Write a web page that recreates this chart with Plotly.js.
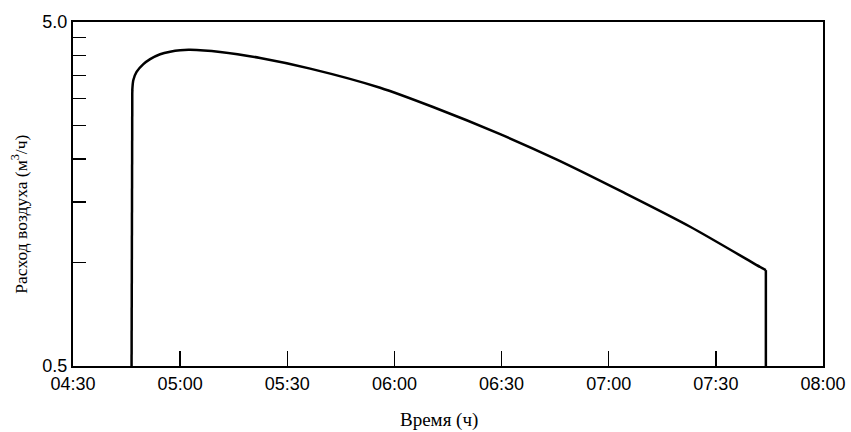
<!DOCTYPE html>
<html>
<head>
<meta charset="utf-8">
<script src="https://cdn.plot.ly/plotly-3.0.1.min.js"></script>
<style>html,body{margin:0;padding:0;background:#fff;}#chart{width:851px;height:432px;}</style>
</head>
<body>
<div id="chart"></div>
<script>
// Time (h:m:s) of each point of the air-flow curve
var times = ["04:46:24","04:46:30","04:46:36","04:46:54","04:47:48","04:49:42","04:51:36","04:54:24","04:57:12","05:00:00","05:02:48","05:11:12","05:22:24","05:36:24","05:56:00","06:10:48","06:29:36","06:45:30","07:04:00","07:22:48","07:42:24","07:44:00","07:44:00"];
// Air flow (m3/h)
var flow = [0.5, 2.9, 3.17, 3.39, 3.58, 3.77, 3.90, 4.03, 4.10, 4.14, 4.15, 4.09, 3.93, 3.66, 3.22, 2.83, 2.36, 1.99, 1.60, 1.27, 0.97, 0.95, 0.5];
// Tick values and labels
var yTickVals = [0.5, 5];
var yTickText = ["0.5", "5.0"];
var yMinorTickVals = [1, 1.5, 2, 2.5, 3, 3.5, 4, 4.5];
var xStart = "04:30", xEnd = "08:00";
var xTitle = "Время (ч)";
var yTitle = "Расход воздуха (м<sup>3</sup>/ч)";

var day = "2000-01-01 ";
var X = times.map(function(t){ return day + t; });
var n = X.length;
function seg(a, b, shape) {
  return {
    x: X.slice(a, b), y: flow.slice(a, b),
    mode: "lines",
    line: {color: "#000", width: 2.5, shape: shape, smoothing: 0.8},
    hoverinfo: "skip", showlegend: false
  };
}
var traces = [
  seg(0, 3, "linear"),        // rising edge
  seg(2, n - 1, "spline"),    // curve
  seg(n - 2, n, "linear")     // falling edge
];

var tickFont = {family: "Liberation Sans, Arial, sans-serif", size: 18, color: "#000"};
var layout = {
  width: 851, height: 432,
  margin: {l: 73, r: 28, t: 22, b: 66},
  paper_bgcolor: "#fff", plot_bgcolor: "#fff",
  xaxis: {
    type: "date",
    range: [day + xStart, day + xEnd],
    tick0: day + xStart,
    dtick: 1800000,
    tickformat: "%H:%M",
    ticks: "inside", ticklen: 15, tickwidth: 1.5, tickcolor: "#000",
    showline: true, linecolor: "#000", linewidth: 2, mirror: true,
    showgrid: false, zeroline: false,
    tickfont: tickFont
  },
  yaxis: {
    type: "log",
    range: [Math.log10(0.5), Math.log10(5)],
    tickmode: "array", tickvals: yTickVals, ticktext: yTickText,
    ticks: "inside", ticklen: 13, tickwidth: 1.5, tickcolor: "#000",
    minor: {tickmode: "array", tickvals: yMinorTickVals, ticks: "inside",
            ticklen: 13, tickwidth: 1.5, tickcolor: "#000", showgrid: false},
    showline: true, linecolor: "#000", linewidth: 2, mirror: true,
    showgrid: false, zeroline: false,
    tickfont: tickFont
  },
  annotations: [
    {text: xTitle, xref: "paper", yref: "paper", x: 0.488, y: -0.157,
     showarrow: false, xanchor: "center", yanchor: "middle",
     font: {family: "Liberation Serif, Times New Roman, serif", size: 19, color: "#000"}},
    {text: yTitle, xref: "paper", yref: "paper", x: -0.072, y: 0.44,
     showarrow: false, xanchor: "center", yanchor: "middle", textangle: -90,
     font: {family: "Liberation Serif, Times New Roman, serif", size: 17.5, color: "#000"}}
  ]
};

Plotly.newPlot("chart", traces, layout, {staticPlot: true, displayModeBar: false});
</script>
</body>
</html>
